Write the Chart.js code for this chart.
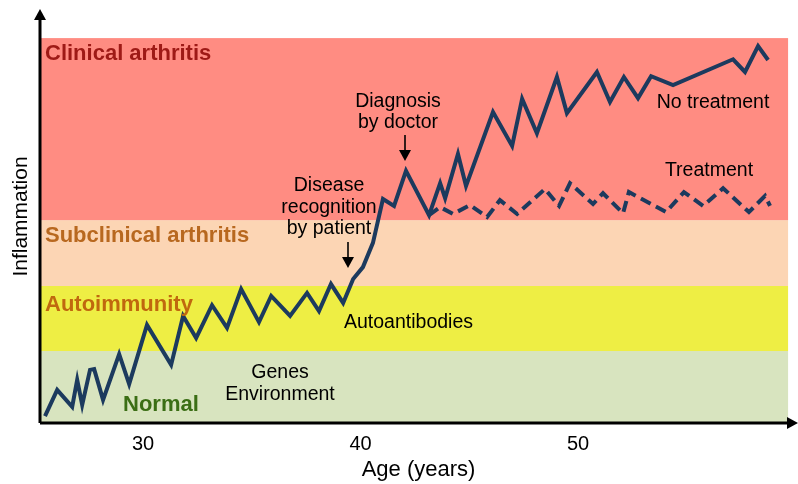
<!DOCTYPE html>
<html>
<head>
<meta charset="utf-8">
<script src="https://cdn.jsdelivr.net/npm/chart.js@4.4.0/dist/chart.umd.min.js"></script>
<style>
  html, body { margin: 0; padding: 0; background: #fff; }
  #wrap { width: 798px; height: 484px; }
</style>
</head>
<body>
<div id="wrap"><canvas id="myChart" width="798" height="484"></canvas></div>
<script>
// ages (x) and inflammation level (y, 0-100 = top of clinical band)
let noTreatAge = [25.49, 26.05, 26.74, 26.97, 27.20, 27.56, 27.75, 28.16, 28.90, 29.36,
    30.18, 31.29, 31.84, 32.44, 33.17, 33.86, 34.51, 35.33, 35.89, 36.76,
    37.54, 38.09, 38.64, 39.20, 39.66, 40.11, 40.57, 41.03, 41.54, 42.09,
    43.15, 43.66, 43.89, 44.48, 44.85, 46.09, 46.97, 47.43, 48.11, 49.03,
    49.49, 50.87, 51.47, 52.11, 52.76, 53.36, 54.37, 57.13, 57.68, 58.28, 58.74];
let noTreatLevel = [1.8, 8.6, 4.2, 11.2, 4.7, 13.8, 14.0, 6.0, 17.9, 10.1,
    25.5, 15.1, 27.8, 22.1, 30.6, 24.7, 34.8, 26.2, 33.0, 27.8,
    33.8, 29.1, 36.1, 31.2, 37.4, 40.5, 46.8, 58.2, 56.4, 65.5,
    54.0, 62.3, 58.4, 69.9, 61.6, 80.8, 72.0, 84.2, 75.3, 89.9,
    80.5, 91.2, 83.4, 89.9, 84.4, 90.1, 87.8, 94.5, 91.2, 97.9, 94.3];

let treatAge = [43.15, 43.66, 44.25, 45.03, 45.82, 46.41, 47.20, 48.48, 49.13, 49.63,
    50.69, 51.15, 52.07, 52.34, 54.05, 54.87, 55.75, 56.67, 57.86, 58.60, 58.83];
let treatLevel = [54.0, 56.1, 54.3, 56.6, 53.5, 57.9, 54.3, 60.8, 56.4, 62.3,
    56.9, 59.7, 54.5, 60.0, 54.8, 60.0, 56.4, 61.0, 54.8, 59.0, 56.4];

let ageTicks = [30, 40, 50];

// stages: name, lower, upper, fill, text colour
let stageNames = ["Normal", "Autoimmunity", "Subclinical arthritis", "Clinical arthritis"];
let stageFrom = [0, 18.7, 35.6, 52.7];
let stageTo = [18.7, 35.6, 52.7, 100];
let stageFill = ["#d8e4bf", "#eeee44", "#fcd5b4", "#ff8c82"];
let stageText = ["#3b6e15", "#c0680e", "#b8681f", "#9e1a16"];

const AGE_MIN = 25.26, AGE_MAX = 60.07, BAND_END = 59.66;
const LINE = "#1c3a5e";
const FONT = "'Liberation Sans', Arial, sans-serif";

function pts(xs, ys) {
    return xs.map(function (x, i) { return { x: x, y: ys[i] }; });
}

const bandsPlugin = {
    id: "bands",
    beforeDatasetsDraw: function (chart) {
        let ctx = chart.ctx, x = chart.scales.x, y = chart.scales.y;
        let x0 = x.getPixelForValue(AGE_MIN), x1 = x.getPixelForValue(BAND_END);
        ctx.save();
        for (let i = 0; i < stageNames.length; i++) {
            let top = y.getPixelForValue(stageTo[i]);
            let bot = y.getPixelForValue(stageFrom[i]);
            ctx.fillStyle = stageFill[i];
            ctx.fillRect(x0, top, x1 - x0, bot - top);
        }
        ctx.restore();
    }
};

function arrowDown(ctx, x, y0, y1) {
    ctx.beginPath();
    ctx.moveTo(x, y0);
    ctx.lineTo(x, y1 - 8);
    ctx.lineWidth = 1.6;
    ctx.strokeStyle = "#000";
    ctx.stroke();
    ctx.beginPath();
    ctx.moveTo(x - 6, y1 - 11);
    ctx.lineTo(x + 6, y1 - 11);
    ctx.lineTo(x, y1);
    ctx.closePath();
    ctx.fillStyle = "#000";
    ctx.fill();
}

const notesPlugin = {
    id: "notes",
    afterDatasetsDraw: function (chart) {
        let ctx = chart.ctx, a = chart.chartArea;
        ctx.save();
        ctx.textBaseline = "middle";

        // stage names
        ctx.font = "bold 22px " + FONT;
        ctx.textAlign = "left";
        let stageX = [123, 45, 45, 45];
        let stageY = [405, 305, 236, 54];
        for (let i = 0; i < stageNames.length; i++) {
            ctx.fillStyle = stageText[i];
            ctx.fillText(stageNames[i], stageX[i], stageY[i]);
        }

        // notes
        ctx.fillStyle = "#000";
        ctx.font = "19.5px " + FONT;
        ctx.textAlign = "center";
        ctx.fillText("Genes", 280, 373);
        ctx.fillText("Environment", 280, 395);
        ctx.fillText("Disease", 329, 186);
        ctx.fillText("recognition", 329, 208);
        ctx.fillText("by patient", 329, 229);
        ctx.fillText("Diagnosis", 398, 102);
        ctx.fillText("by doctor", 398, 123);
        ctx.fillText("No treatment", 713, 103);
        ctx.fillText("Treatment", 709, 171);
        ctx.textAlign = "left";
        ctx.fillText("Autoantibodies", 344, 323);

        arrowDown(ctx, 348, 242, 268);
        arrowDown(ctx, 405, 135, 161);

        // axes with arrow heads
        ctx.strokeStyle = "#000";
        ctx.fillStyle = "#000";
        ctx.lineWidth = 3;
        ctx.beginPath();
        ctx.moveTo(a.left, a.bottom);
        ctx.lineTo(a.left, a.top + 8);
        ctx.moveTo(a.left, a.bottom);
        ctx.lineTo(a.right - 8, a.bottom);
        ctx.stroke();
        ctx.beginPath();
        ctx.moveTo(a.left - 6, a.top + 10);
        ctx.lineTo(a.left + 6, a.top + 10);
        ctx.lineTo(a.left, a.top - 1);
        ctx.closePath();
        ctx.fill();
        ctx.beginPath();
        ctx.moveTo(a.right - 10, a.bottom - 6);
        ctx.lineTo(a.right - 10, a.bottom + 6);
        ctx.lineTo(a.right + 1, a.bottom);
        ctx.closePath();
        ctx.fill();
        ctx.restore();
    }
};

new Chart("myChart", {
    type: "line",
    data: {
        datasets: [{
            label: "No treatment",
            data: pts(noTreatAge, noTreatLevel),
            borderColor: LINE,
            borderWidth: 4,
            pointRadius: 0,
            tension: 0,
            borderJoinStyle: "miter"
        }, {
            label: "Treatment",
            data: pts(treatAge, treatLevel),
            borderColor: LINE,
            borderWidth: 4,
            borderDash: [11, 6],
            pointRadius: 0,
            tension: 0
        }]
    },
    options: {
        responsive: false,
        animation: false,
        events: [],
        layout: { padding: { top: 10, right: 1, left: 0, bottom: 0 } },
        plugins: {
            legend: { display: false },
            tooltip: { enabled: false }
        },
        scales: {
            x: {
                type: "linear",
                min: AGE_MIN,
                max: AGE_MAX,
                grid: { display: false, drawTicks: false },
                border: { display: false },
                afterBuildTicks: function (scale) {
                    scale.ticks = ageTicks.map(function (v) { return { value: v }; });
                },
                afterFit: function (scale) { scale.height = 61; },
                ticks: {
                    color: "#000",
                    padding: 9,
                    maxRotation: 0,
                    font: { family: FONT, size: 20 }
                },
                title: {
                    display: true,
                    text: "Age (years)",
                    color: "#000",
                    font: { family: FONT, size: 22 },
                    padding: { top: 0, bottom: 1 }
                }
            },
            y: {
                min: 0,
                max: 107.3,
                grid: { display: false },
                border: { display: false },
                afterFit: function (scale) { scale.width = 40; },
                ticks: { display: false },
                title: {
                    display: true,
                    text: "Inflammation",
                    color: "#000",
                    font: { family: FONT, size: 21 },
                    padding: { top: 9, bottom: 0 }
                }
            }
        }
    },
    plugins: [bandsPlugin, notesPlugin]
});
</script>
</body>
</html>
